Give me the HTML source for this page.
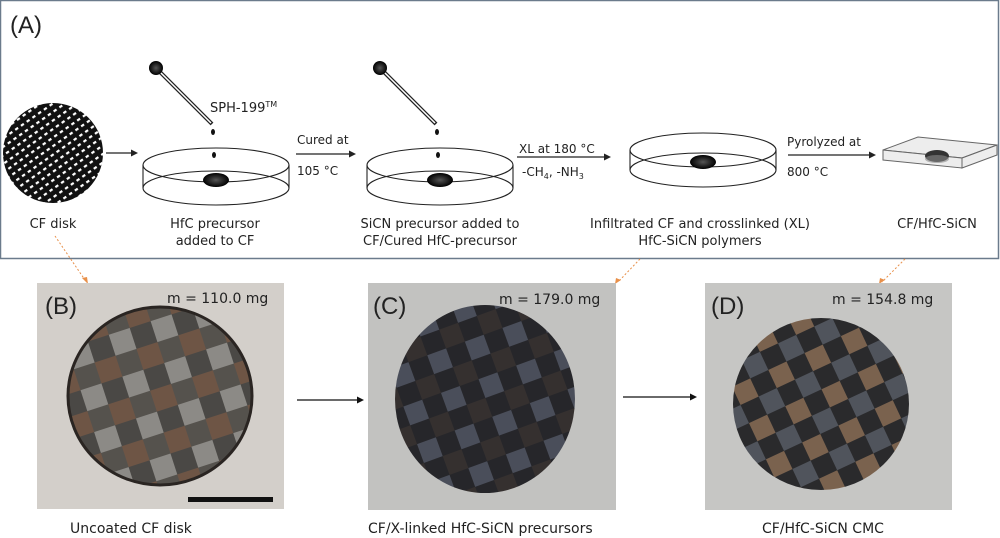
<!DOCTYPE html>
<html><head><meta charset="utf-8"><style>
body{margin:0;background:#fff;width:1000px;height:538px;overflow:hidden}
svg{display:block}
text{font-family:"DejaVu Sans","Liberation Sans",sans-serif;fill:#222}
</style></head><body>
<svg width="1000" height="538" viewBox="0 0 1000 538">
<defs>
<pattern id="dots" width="7" height="7" patternUnits="userSpaceOnUse" patternTransform="rotate(-35)">
<rect width="7" height="7" fill="#111"/><rect x="1" y="2" width="3.5" height="2.2" fill="#fff"/>
</pattern>
<pattern id="weaveB" width="44" height="44" patternUnits="userSpaceOnUse" patternTransform="rotate(-18)">
<rect width="44" height="44" fill="#55524d"/>
<rect x="0" y="0" width="22" height="22" fill="#8c8a86"/><rect x="22" y="22" width="22" height="22" fill="#6e5545"/>
<rect x="22" y="0" width="22" height="22" fill="#4a4845"/>
</pattern>
<pattern id="weaveC" width="40" height="40" patternUnits="userSpaceOnUse" patternTransform="rotate(-20)">
<rect width="40" height="40" fill="#26262a"/>
<rect x="0" y="0" width="20" height="20" fill="#4a4e5a"/><rect x="20" y="20" width="20" height="20" fill="#35302f"/>
</pattern>
<pattern id="weaveD" width="40" height="40" patternUnits="userSpaceOnUse" patternTransform="rotate(-25)">
<rect width="40" height="40" fill="#2a2a2c"/>
<rect x="0" y="0" width="20" height="20" fill="#50545c"/><rect x="20" y="20" width="20" height="20" fill="#7a624e"/>
</pattern>
<radialGradient id="blob"><stop offset="0" stop-color="#555"/><stop offset="1" stop-color="#000"/></radialGradient>
</defs>
<rect x="0.5" y="0.5" width="998" height="258" fill="#fff" stroke="#6b7b8c" stroke-width="1.5"/>
<text x="10" y="33" font-size="24" style="font-family:'Liberation Sans'">(A)</text>
<circle cx="53" cy="153" r="50" fill="url(#dots)"/>
<g stroke="#222" stroke-width="1.2" fill="none">
<line x1="106" y1="153" x2="133" y2="153"/>
<line x1="296" y1="154" x2="351" y2="154"/>
<line x1="517" y1="157" x2="606" y2="157"/>
<line x1="788" y1="155" x2="871" y2="155"/>
</g>
<g fill="#222">
<polygon points="138,153 131,149.5 131,156.5"/>
<polygon points="356,154 349,150.5 349,157.5"/>
<polygon points="611,157 604,153.5 604,160.5"/>
<polygon points="876,155 869,151.5 869,158.5"/>
</g>
<g fill="none" stroke="#222" stroke-width="1.1">
<ellipse cx="216" cy="165" rx="73" ry="17"/><ellipse cx="216" cy="188" rx="73" ry="17"/>
<line x1="143" y1="165" x2="143" y2="188"/><line x1="289" y1="165" x2="289" y2="188"/>
<ellipse cx="440" cy="165" rx="73" ry="17"/><ellipse cx="440" cy="188" rx="73" ry="17"/>
<line x1="367" y1="165" x2="367" y2="188"/><line x1="513" y1="165" x2="513" y2="188"/>
<ellipse cx="703" cy="150" rx="73" ry="17"/><ellipse cx="703" cy="170" rx="73" ry="17"/>
<line x1="630" y1="150" x2="630" y2="170"/><line x1="776" y1="150" x2="776" y2="170"/>
</g>
<ellipse cx="216" cy="180" rx="13" ry="7" fill="url(#blob)"/>
<ellipse cx="440" cy="180" rx="13" ry="7" fill="url(#blob)"/>
<ellipse cx="703" cy="162" rx="13" ry="7" fill="url(#blob)"/>
<g>
<line x1="158" y1="70" x2="212" y2="124" stroke="#222" stroke-width="4"/>
<line x1="160" y1="72" x2="211" y2="123" stroke="#fff" stroke-width="1.5"/>
<circle cx="156" cy="68" r="7" fill="url(#blob)"/>
<ellipse cx="213" cy="132" rx="2" ry="3" fill="#111"/><ellipse cx="214" cy="155" rx="2" ry="3" fill="#111"/>
<line x1="382" y1="70" x2="436" y2="124" stroke="#222" stroke-width="4"/>
<line x1="384" y1="72" x2="435" y2="123" stroke="#fff" stroke-width="1.5"/>
<circle cx="380" cy="68" r="7" fill="url(#blob)"/>
<ellipse cx="437" cy="132" rx="2" ry="3" fill="#111"/><ellipse cx="438" cy="155" rx="2" ry="3" fill="#111"/>
</g>
<g stroke="#666" stroke-width="1" fill="#e6e6e6" fill-opacity="0.7">
<polygon points="883,150 918,137 997,145 962,158"/>
<polygon points="883,150 962,158 962,168 883,160"/>
<polygon points="962,158 997,145 997,155 962,168"/>
</g>
<ellipse cx="937" cy="156" rx="12" ry="6" fill="#333"/>
<ellipse cx="937" cy="159" rx="12" ry="4" fill="#888" opacity="0.6"/>
<g font-size="13">
<text x="210" y="112">SPH-199<tspan font-size="8" dy="-5">TM</tspan></text>
<text x="297" y="144" font-size="12">Cured at</text>
<text x="297" y="175" font-size="12">105 °C</text>
<text x="519" y="153" font-size="12">XL at 180 °C</text>
<text x="522" y="176" font-size="12">-CH<tspan font-size="8" dy="3">4</tspan><tspan dy="-3">, -NH</tspan><tspan font-size="8" dy="3">3</tspan></text>
<text x="787" y="146" font-size="12">Pyrolyzed at</text>
<text x="787" y="176" font-size="12">800 °C</text>
<g text-anchor="middle">
<text x="53" y="228">CF disk</text>
<text x="215" y="228">HfC precursor</text><text x="215" y="245">added to CF</text>
<text x="440" y="228">SiCN precursor added to</text><text x="440" y="245">CF/Cured HfC-precursor</text>
<text x="700" y="228">Infiltrated CF and crosslinked (XL)</text><text x="700" y="245">HfC-SiCN polymers</text>
<text x="937" y="228">CF/HfC-SiCN</text>
</g></g>
<g stroke="#e8904a" stroke-width="1" stroke-dasharray="2,2" fill="none">
<line x1="55" y1="236" x2="85" y2="280"/><line x1="640" y1="259" x2="618" y2="282"/><line x1="905" y1="259" x2="882" y2="282"/>
</g>
<g fill="#e8904a"><polygon points="88,284 82,278 87,277"/><polygon points="615,284 616,278 621,280"/><polygon points="879,284 880,278 885,280"/></g>
<rect x="37" y="283" width="247" height="226" fill="#d3cfca"/>
<rect x="368" y="283" width="248" height="227" fill="#c2c2c0"/>
<rect x="705" y="283" width="247" height="227" fill="#c6c6c4"/>
<ellipse cx="160" cy="396" rx="92" ry="89" fill="url(#weaveB)" stroke="#2a2522" stroke-width="3"/>
<ellipse cx="485" cy="399" rx="90" ry="94" fill="url(#weaveC)"/>
<ellipse cx="821" cy="404" rx="88" ry="86" fill="url(#weaveD)"/>
<rect x="188" y="497" width="85" height="5" fill="#111"/>
<g>
<text x="45" y="314" font-size="24" style="font-family:'Liberation Sans'">(B)</text>
<text x="373" y="314" font-size="24" style="font-family:'Liberation Sans'">(C)</text>
<text x="711" y="314" font-size="24" style="font-family:'Liberation Sans'">(D)</text>
<text x="167" y="303" font-size="14">m = 110.0 mg</text>
<text x="499" y="304" font-size="14">m = 179.0 mg</text>
<text x="832" y="304" font-size="14">m = 154.8 mg</text>
</g>
<g stroke="#111" stroke-width="1.3"><line x1="297" y1="400" x2="358" y2="400"/><line x1="623" y1="397" x2="691" y2="397"/></g>
<g fill="#111"><polygon points="364,400 357,396.5 357,403.5"/><polygon points="697,397 690,393.5 690,400.5"/></g>
<g font-size="14">
<text x="70" y="533">Uncoated CF disk</text>
<text x="368" y="533">CF/X-linked HfC-SiCN precursors</text>
<text x="762" y="533">CF/HfC-SiCN CMC</text>
</g>
</svg>
</body></html>
